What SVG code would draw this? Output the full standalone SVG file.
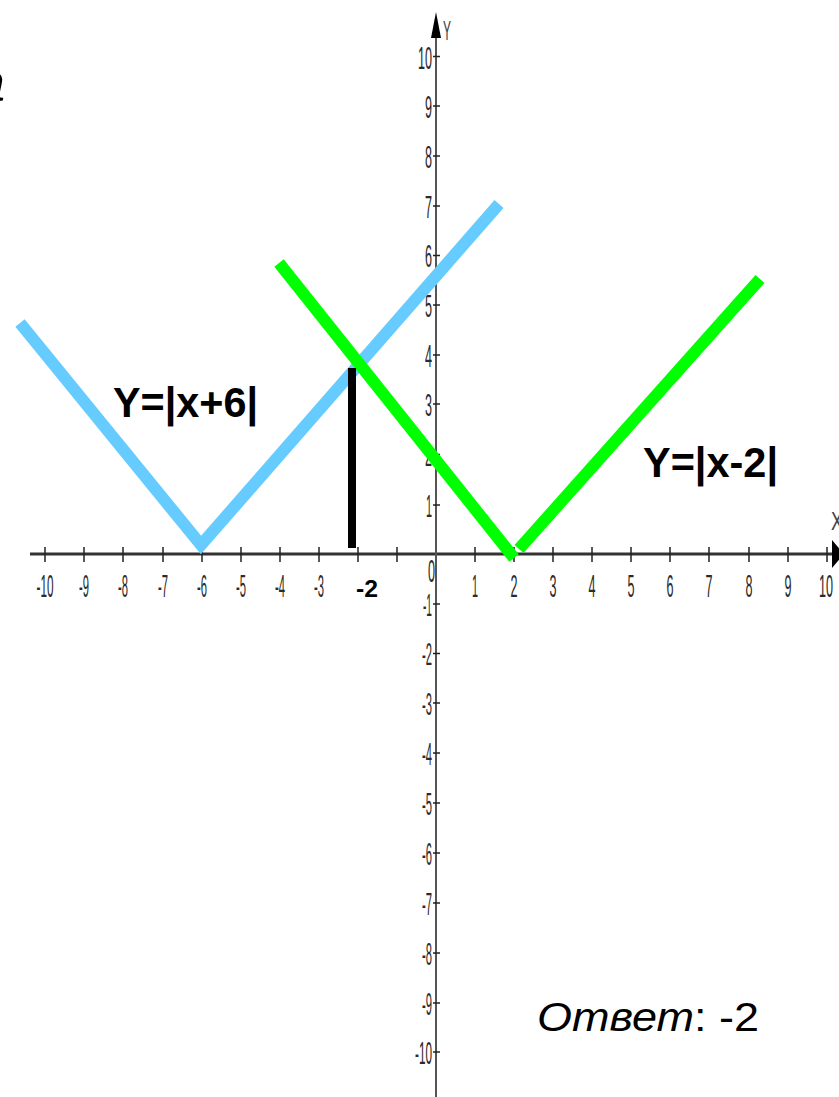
<svg xmlns="http://www.w3.org/2000/svg" width="839" height="1097" viewBox="0 0 839 1097">
<style>
.tl{font-family:"Liberation Sans",Arial,sans-serif;font-size:31px;fill:#2a2a2a;text-anchor:middle}
.yl{font-family:"Liberation Sans",Arial,sans-serif;font-size:31px;fill:#2a2a2a;text-anchor:end}
.big{font-family:"Liberation Sans",Arial,sans-serif;font-size:42px;font-weight:bold;fill:#000}
.tick{stroke:#222;stroke-width:1.5}
</style>
<rect width="839" height="1097" fill="#fff"/>
<g id="fragment"><text x="-26" y="101" font-family="Liberation Sans, Arial, sans-serif" font-style="italic" font-size="56" fill="#000">а</text></g>
<g id="axes">
  <line x1="30" y1="554" x2="834" y2="554" stroke="#333" stroke-width="3"/>
  <polygon points="832,540 844,554 832,568" fill="#000"/>
  <line x1="436" y1="1097" x2="436" y2="30" stroke="#555" stroke-width="2"/>
  <polygon points="431,38 436,12 441,38" fill="#000"/>
  <text x="443" y="40" font-family="Liberation Sans, Arial, sans-serif" font-size="28" fill="#444" textLength="8" lengthAdjust="spacingAndGlyphs">Y</text>
  <text x="831" y="530" font-family="Liberation Sans, Arial, sans-serif" font-size="26" fill="#444" textLength="12" lengthAdjust="spacingAndGlyphs">X</text>
  <g id="xticks">
    <line class="tick" x1="45" y1="547" x2="45" y2="562"/>
    <line class="tick" x1="84" y1="547" x2="84" y2="562"/>
    <line class="tick" x1="123" y1="547" x2="123" y2="562"/>
    <line class="tick" x1="163" y1="547" x2="163" y2="562"/>
    <line class="tick" x1="202" y1="547" x2="202" y2="562"/>
    <line class="tick" x1="241" y1="547" x2="241" y2="562"/>
    <line class="tick" x1="280" y1="547" x2="280" y2="562"/>
    <line class="tick" x1="319" y1="547" x2="319" y2="562"/>
    <line class="tick" x1="358" y1="547" x2="358" y2="562"/>
    <line class="tick" x1="397" y1="547" x2="397" y2="562"/>
    <line class="tick" x1="475" y1="547" x2="475" y2="562"/>
    <line class="tick" x1="514" y1="547" x2="514" y2="562"/>
    <line class="tick" x1="553" y1="547" x2="553" y2="562"/>
    <line class="tick" x1="592" y1="547" x2="592" y2="562"/>
    <line class="tick" x1="631" y1="547" x2="631" y2="562"/>
    <line class="tick" x1="670" y1="547" x2="670" y2="562"/>
    <line class="tick" x1="709" y1="547" x2="709" y2="562"/>
    <line class="tick" x1="749" y1="547" x2="749" y2="562"/>
    <line class="tick" x1="788" y1="547" x2="788" y2="562"/>
    <line class="tick" x1="827" y1="547" x2="827" y2="562"/>
  </g>
  <g id="xlabels">
    <text class="tl" x="45" y="597" textLength="17" lengthAdjust="spacingAndGlyphs">-10</text>
    <text class="tl" x="84" y="597" textLength="10" lengthAdjust="spacingAndGlyphs">-9</text>
    <text class="tl" x="123" y="597" textLength="10" lengthAdjust="spacingAndGlyphs">-8</text>
    <text class="tl" x="163" y="597" textLength="10" lengthAdjust="spacingAndGlyphs">-7</text>
    <text class="tl" x="202" y="597" textLength="10" lengthAdjust="spacingAndGlyphs">-6</text>
    <text class="tl" x="241" y="597" textLength="10" lengthAdjust="spacingAndGlyphs">-5</text>
    <text class="tl" x="280" y="597" textLength="10" lengthAdjust="spacingAndGlyphs">-4</text>
    <text class="tl" x="319" y="597" textLength="10" lengthAdjust="spacingAndGlyphs">-3</text>
    <text class="tl" x="475" y="597" textLength="6" lengthAdjust="spacingAndGlyphs">1</text>
    <text class="tl" x="514" y="597" textLength="7" lengthAdjust="spacingAndGlyphs">2</text>
    <text class="tl" x="553" y="597" textLength="7" lengthAdjust="spacingAndGlyphs">3</text>
    <text class="tl" x="592" y="597" textLength="7" lengthAdjust="spacingAndGlyphs">4</text>
    <text class="tl" x="631" y="597" textLength="7" lengthAdjust="spacingAndGlyphs">5</text>
    <text class="tl" x="670" y="597" textLength="7" lengthAdjust="spacingAndGlyphs">6</text>
    <text class="tl" x="709" y="597" textLength="7" lengthAdjust="spacingAndGlyphs">7</text>
    <text class="tl" x="749" y="597" textLength="7" lengthAdjust="spacingAndGlyphs">8</text>
    <text class="tl" x="788" y="597" textLength="7" lengthAdjust="spacingAndGlyphs">9</text>
    <text class="tl" x="826" y="597" textLength="14" lengthAdjust="spacingAndGlyphs">10</text>
    <text class="yl" x="435" y="582" font-size="32" textLength="7" lengthAdjust="spacingAndGlyphs">0</text>
  </g>
  <g id="yticks">
    <line class="tick" x1="433" y1="56.5" x2="440" y2="56.5"/>
    <line class="tick" x1="433" y1="106" x2="440" y2="106"/>
    <line class="tick" x1="433" y1="156" x2="440" y2="156"/>
    <line class="tick" x1="433" y1="206" x2="440" y2="206"/>
    <line class="tick" x1="433" y1="255.5" x2="440" y2="255.5"/>
    <line class="tick" x1="433" y1="305" x2="440" y2="305"/>
    <line class="tick" x1="433" y1="355" x2="440" y2="355"/>
    <line class="tick" x1="433" y1="404" x2="440" y2="404"/>
    <line class="tick" x1="433" y1="454.5" x2="440" y2="454.5"/>
    <line class="tick" x1="433" y1="505" x2="440" y2="505"/>
    <line class="tick" x1="433" y1="604" x2="440" y2="604"/>
    <line class="tick" x1="433" y1="653.5" x2="440" y2="653.5"/>
    <line class="tick" x1="433" y1="703" x2="440" y2="703"/>
    <line class="tick" x1="433" y1="753" x2="440" y2="753"/>
    <line class="tick" x1="433" y1="803" x2="440" y2="803"/>
    <line class="tick" x1="433" y1="853" x2="440" y2="853"/>
    <line class="tick" x1="433" y1="903" x2="440" y2="903"/>
    <line class="tick" x1="433" y1="953" x2="440" y2="953"/>
    <line class="tick" x1="433" y1="1003" x2="440" y2="1003"/>
    <line class="tick" x1="433" y1="1052" x2="440" y2="1052"/>
  </g>
  <g id="ylabels">
    <text class="yl" x="432" y="69" textLength="14" lengthAdjust="spacingAndGlyphs">10</text>
    <text class="yl" x="432" y="118" textLength="7" lengthAdjust="spacingAndGlyphs">9</text>
    <text class="yl" x="432" y="168" textLength="7" lengthAdjust="spacingAndGlyphs">8</text>
    <text class="yl" x="432" y="218" textLength="7" lengthAdjust="spacingAndGlyphs">7</text>
    <text class="yl" x="432" y="267" textLength="7" lengthAdjust="spacingAndGlyphs">6</text>
    <text class="yl" x="432" y="317" textLength="7" lengthAdjust="spacingAndGlyphs">5</text>
    <text class="yl" x="432" y="367" textLength="7" lengthAdjust="spacingAndGlyphs">4</text>
    <text class="yl" x="432" y="416" textLength="7" lengthAdjust="spacingAndGlyphs">3</text>
    <text class="yl" x="432" y="466" textLength="7" lengthAdjust="spacingAndGlyphs">2</text>
    <text class="yl" x="432" y="517" textLength="6" lengthAdjust="spacingAndGlyphs">1</text>
    <text class="yl" x="432" y="616" textLength="9" lengthAdjust="spacingAndGlyphs">-1</text>
    <text class="yl" x="432" y="665" textLength="10" lengthAdjust="spacingAndGlyphs">-2</text>
    <text class="yl" x="432" y="715" textLength="10" lengthAdjust="spacingAndGlyphs">-3</text>
    <text class="yl" x="432" y="765" textLength="10" lengthAdjust="spacingAndGlyphs">-4</text>
    <text class="yl" x="432" y="815" textLength="10" lengthAdjust="spacingAndGlyphs">-5</text>
    <text class="yl" x="432" y="865" textLength="10" lengthAdjust="spacingAndGlyphs">-6</text>
    <text class="yl" x="432" y="915" textLength="10" lengthAdjust="spacingAndGlyphs">-7</text>
    <text class="yl" x="432" y="965" textLength="10" lengthAdjust="spacingAndGlyphs">-8</text>
    <text class="yl" x="432" y="1015" textLength="10" lengthAdjust="spacingAndGlyphs">-9</text>
    <text class="yl" x="432" y="1064" textLength="17" lengthAdjust="spacingAndGlyphs">-10</text>
  </g>
</g>
<g id="graph-blue">
  <polyline points="20,323 201,545 499,204" fill="none" stroke="#66CCFF" stroke-width="12" stroke-linejoin="miter"/>
  <text class="big" x="113" y="417" textLength="145" lengthAdjust="spacingAndGlyphs">Y=|x+6|</text>
</g>
<g id="graph-green">
  <line x1="279" y1="263" x2="514" y2="558" stroke="#00FF00" stroke-width="12"/>
  <line x1="519" y1="549" x2="760" y2="279" stroke="#00FF00" stroke-width="12"/>
  <text class="big" x="643" y="477" textLength="135" lengthAdjust="spacingAndGlyphs">Y=|x-2|</text>
</g>
<g id="answer-marker">
  <line x1="352" y1="368" x2="352" y2="548" stroke="#000" stroke-width="8"/>
  <text x="356" y="597" font-family="Liberation Sans, Arial, sans-serif" font-size="24" font-weight="bold" fill="#000" textLength="22" lengthAdjust="spacingAndGlyphs">-2</text>
</g>
<g id="answer">
  <text x="537" y="1031" font-family="Liberation Sans, Arial, sans-serif" font-size="40" fill="#000" textLength="222" lengthAdjust="spacingAndGlyphs"><tspan font-style="italic">Ответ</tspan>: -2</text>
</g>
</svg>
